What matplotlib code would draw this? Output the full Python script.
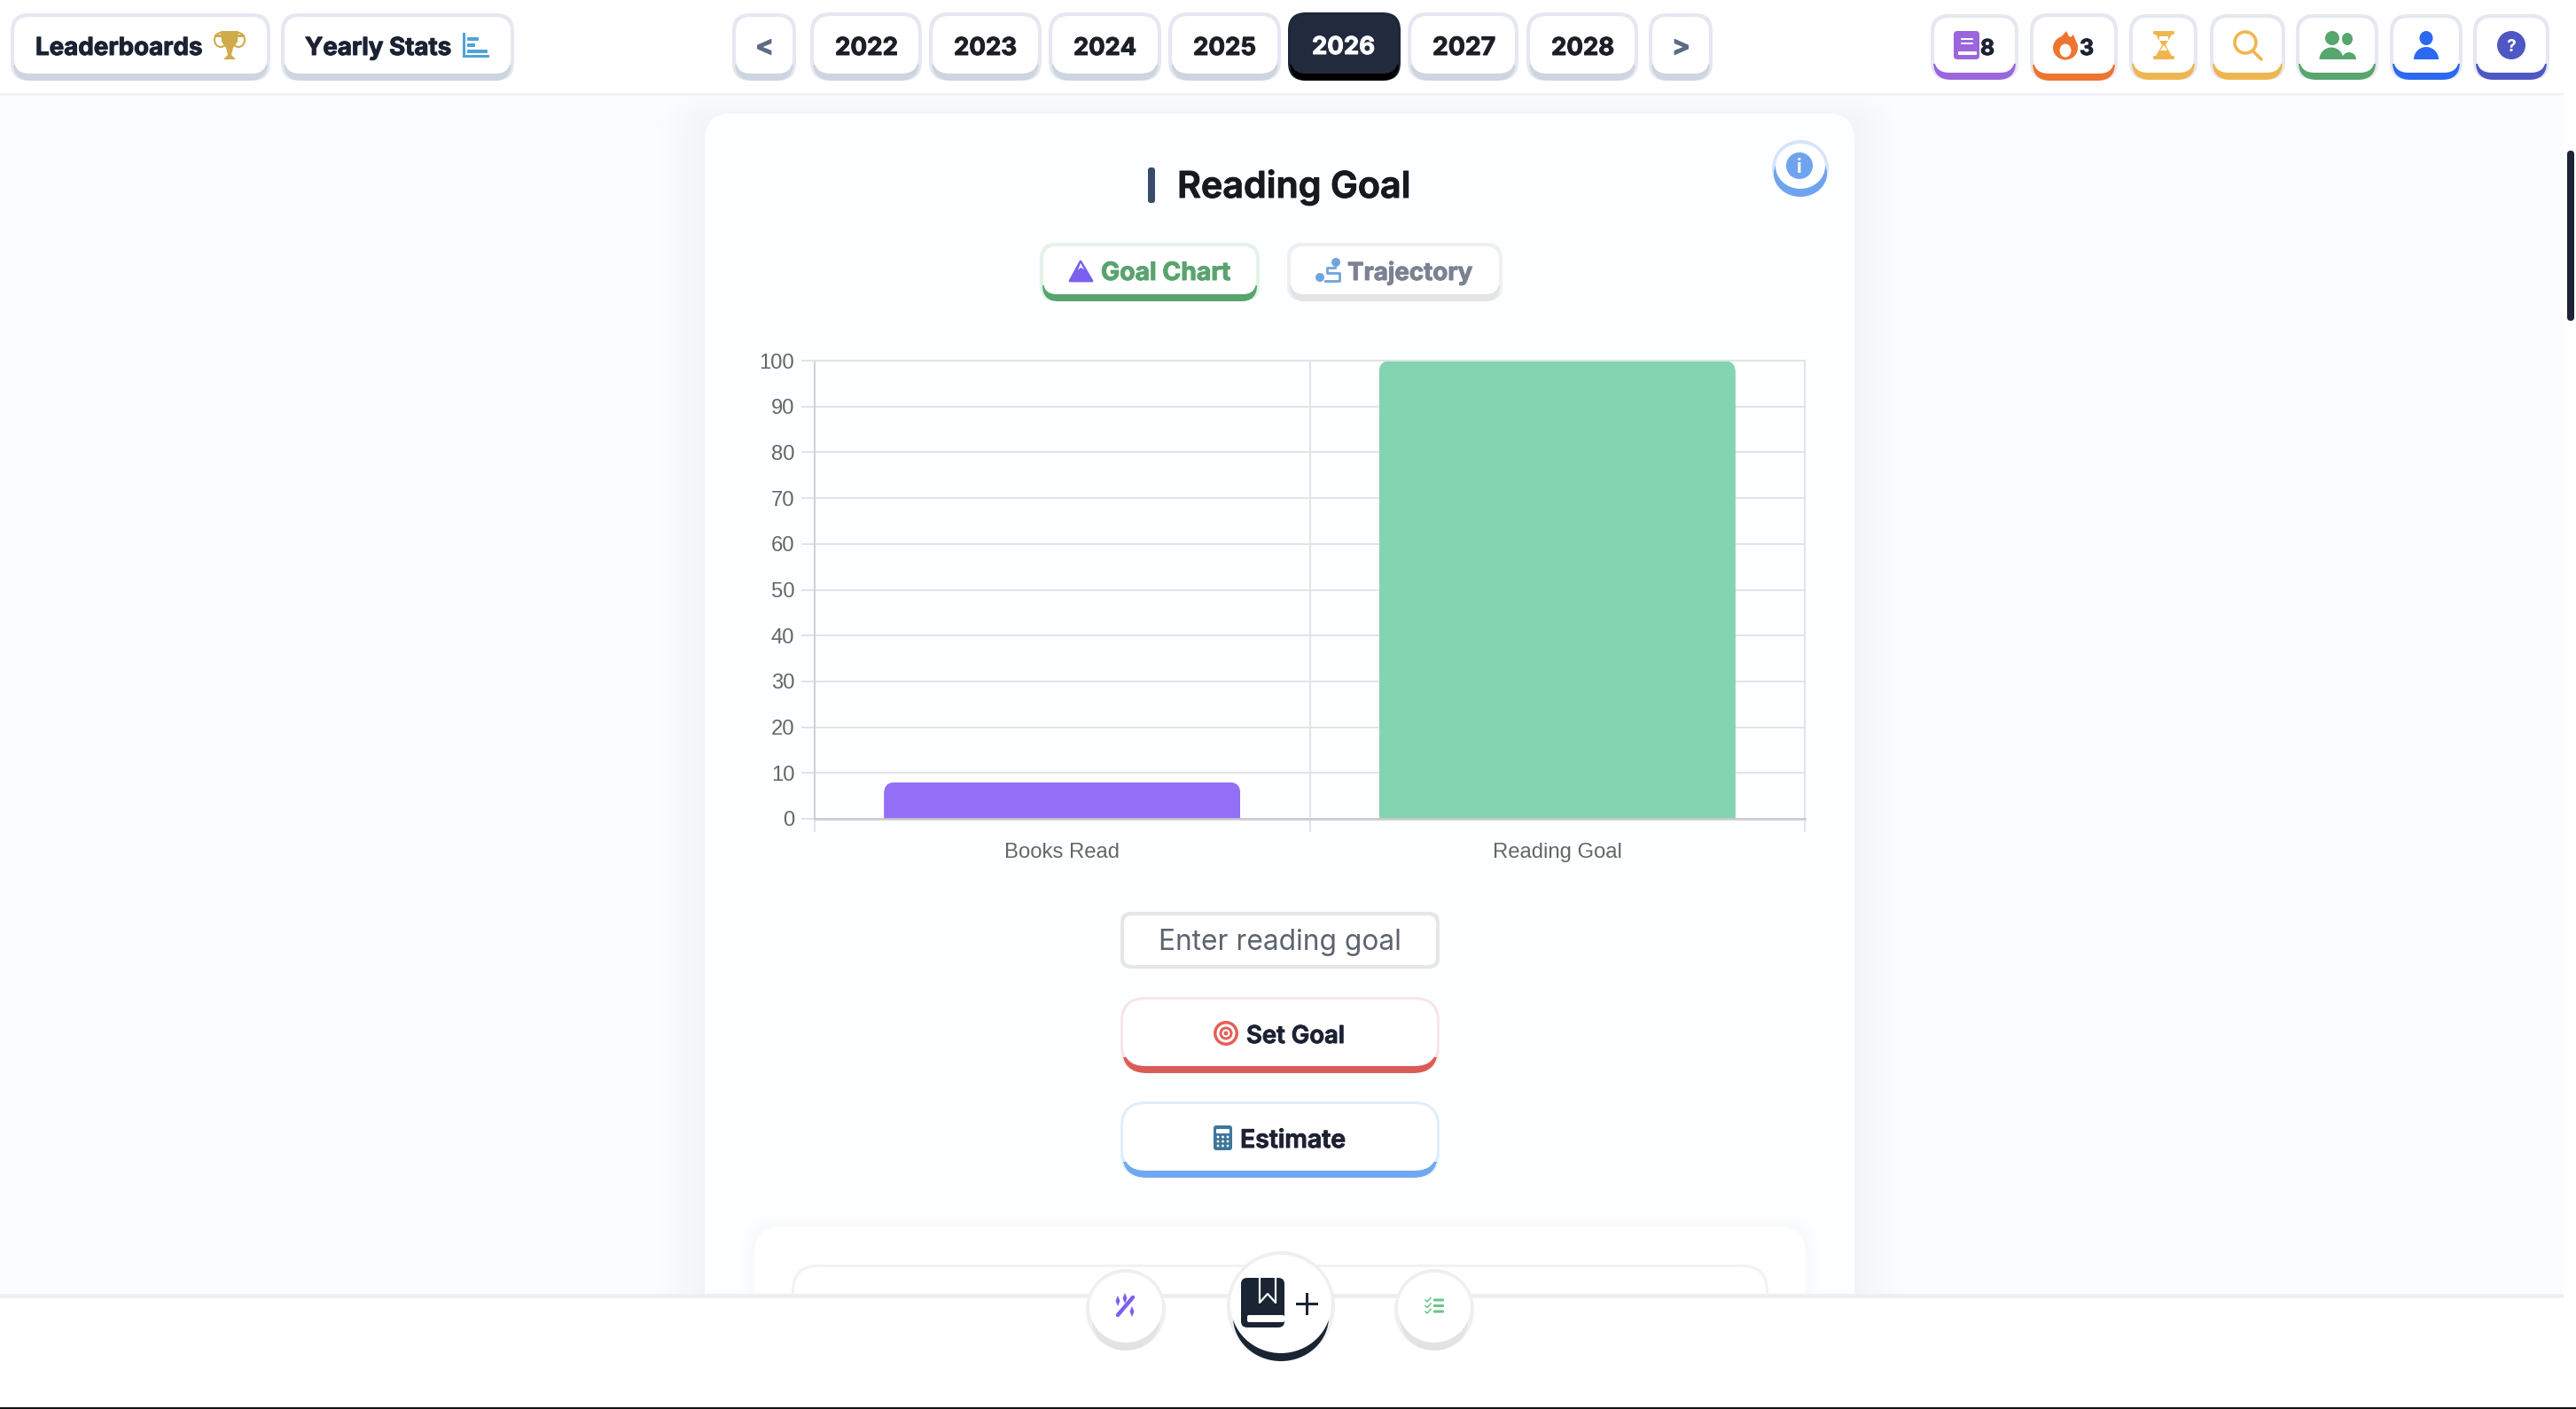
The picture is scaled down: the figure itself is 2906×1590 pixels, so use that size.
import matplotlib
matplotlib.use('Agg')
import matplotlib.pyplot as plt
import matplotlib.patheffects as pe
from matplotlib.patches import FancyBboxPatch, Rectangle, Circle, Ellipse, Polygon, PathPatch, Wedge
from matplotlib.path import Path
from matplotlib.transforms import IdentityTransform

W, H = 2906, 1590

# chart data
categories = ['Books Read', 'Reading Goal']
values = [8, 100]
bar_colors = ['#936ff6', '#82d5b0']
y_ticks = list(range(0, 101, 10))

# page text
years = ['2022', '2023', '2024', '2025', '2026', '2027', '2028']
year_x = [(914, 1040), (1048, 1175), (1183, 1310), (1318, 1445), (1453, 1580), (1588, 1713), (1722, 1848)]

INK = '#1c2233'
BORDER = '#e5e8f0'
SHADE = '#cdd5e0'

fig = plt.figure(figsize=(W / 100, H / 100), dpi=100, facecolor='white')
bg = fig.add_axes([0, 0, 1, 1])
bg.set_xlim(0, W)
bg.set_ylim(H, 0)
bg.axis('off')
renderer = fig.canvas.get_renderer()


def box(x0, y0, x1, y1, r, color, z=1, **kw):
    p = FancyBboxPatch((x0, y0), x1 - x0, y1 - y0, boxstyle=f'round,pad=0,rounding_size={r}',
                       fc=color, ec='none', zorder=z, **kw)
    bg.add_patch(p)
    return p


def button(x0, y0, x1, y1, edge=BORDER, under=SHADE, r=20, b=4, lip=8, fill='white', z=3):
    box(x0, y0, x1, y1, r, edge, z)
    low = box(x0 + b - 1, y0, x1 - b + 1, y1, r, under, z)
    low.set_clip_path(Rectangle((x0, y1 - lip - 10), x1 - x0, lip + 10, transform=bg.transData))
    box(x0 + b, y0 + b, x1 - b, y1 - lip, r - 3, fill, z)


def label(x, base, s, width, color=INK, weight='bold', family='Inter', size=28, z=6):
    # x is the left edge of the text, width its width in pixels
    t = bg.text(x, base, s, color=color, fontsize=size, fontweight=weight, family=family,
                ha='left', va='baseline', zorder=z)
    t.set_fontsize(size * width / t.get_window_extent(renderer).width)
    if weight != 'normal':
        t.set_path_effects([pe.withStroke(linewidth=0.7, foreground=color)])
    return t


# page, screenshot edge
bg.add_patch(Rectangle((0, 1560), W, 30, fc='#111111', ec='none', zorder=0))
box(0, 1300, W, 1588, 24, 'white', 0.5)
bg.add_patch(Rectangle((0, 100), 2892, 1365, fc='#fbfcfe', ec='none', zorder=1))

# card with soft shadow
for i in range(8):
    box(795 - 48 + i * 6, 128 - 20 + i * 3, 2092 + 48 - i * 6, 1500, 40, '#dfe4ee', 1.1, alpha=0.03)
box(795, 128, 2092, 1500, 30, '#fdfeff', 1.2)
for i in range(5):
    box(851 - 15 + i * 3, 1384 - 10 + i * 2, 2037 + 15 - i * 3, 1500, 34, '#e4e8f0', 1.3, alpha=0.025)
box(851, 1384, 2037, 1500, 30, 'white', 1.4)
box(893, 1427, 1995, 1500, 30, '#f1f2f5', 1.5)
box(896, 1430, 1992, 1500, 27, 'white', 1.6)

# top bar
bg.add_patch(Rectangle((0, 0), W, 105, fc='white', ec='none', zorder=2))
bg.add_patch(Rectangle((0, 105), 2892, 3, fc='#f0f1f4', ec='none', zorder=2))

# bottom bar
bg.add_patch(Rectangle((0, 1464), W, 124, fc='white', ec='none', zorder=2))
bg.add_patch(Rectangle((0, 1460), 2892, 5, fc='#eeeff1', ec='none', zorder=2))

# scrollbar
box(2896, 170, 2904, 362, 4, '#1e2435', 2)

# left buttons
button(12, 15, 305, 91)
label(40, 62, 'Leaderboards', 188)
button(317, 15, 580, 91)
label(344, 62, 'Yearly Stats', 165)

# trophy
tc = '#cfab4b'
bg.add_patch(Polygon([(249, 35), (269, 35), (268, 47), (263, 54), (261, 62), (266, 67), (252, 67), (257, 62), (255, 54), (250, 47)],
                     fc=tc, ec='none', zorder=6))
bg.add_patch(Rectangle((242, 39), 34, 2.5, fc=tc, zorder=6))
bg.add_patch(Ellipse((249, 45), 14, 16, fc='none', ec=tc, lw=1.5, zorder=6))
bg.add_patch(Ellipse((269, 45), 14, 16, fc='none', ec=tc, lw=1.5, zorder=6))
# bars icon
ic = '#4fa3d8'
bg.add_patch(Rectangle((522, 37), 3, 28, fc=ic, zorder=6))
bg.add_patch(Rectangle((522, 62), 30, 3, fc=ic, zorder=6))
box(527, 42, 540, 46, 1, ic, 6)
box(527, 49, 536, 53, 1, ic, 6)
box(527, 56, 550, 60, 1, ic, 6)

# year selector
button(826, 15, 898, 91)
label(852, 62, '<', 21, color='#5e6b85')
button(1860, 15, 1932, 91)
label(1886, 62, '>', 21, color='#5e6b85')
for s, (x0, x1) in zip(years, year_x):
    if s == '2026':
        button(x0, 14, x1, 91, edge='#1e2739', under='#000000', fill='#222b3d', b=3)
        label(x0 + 27, 61, s, 71, color='white')
    else:
        button(x0, 14, x1, 91, r=22)
        label(x0 + 28, 62, s, 71, color='#1c1f26')

# right icon buttons
button(2178, 16, 2277, 90, under='#9b66dd')
button(2290, 15, 2389, 91, under='#ee7430')
button(2402, 16, 2479, 90, under='#efb650')
button(2493, 16, 2578, 90, under='#efb650')
button(2590, 16, 2683, 90, under='#57a66d')
button(2696, 16, 2778, 90, under='#2a69f0')
button(2790, 16, 2876, 90, under='#4f57c4')
label(2234, 62, '8', 16)
label(2346, 62, '3', 16)

# book icon
box(2204, 35, 2233, 67, 4, '#9b66dd', 6)
box(2209, 58, 2230, 62, 1, 'white', 7)
box(2212, 43, 2226, 45, 1, 'white', 7)
box(2212, 48, 2226, 50, 1, 'white', 7)
# flame
bg.add_patch(Ellipse((2330, 54), 28, 27, fc='#ee7430', zorder=6))
bg.add_patch(Polygon([(2318, 50), (2331, 35), (2335, 43), (2339, 39), (2344, 52)], fc='#ee7430', zorder=6))
bg.add_patch(Ellipse((2330, 57), 13, 15, fc='white', zorder=7))
# hourglass
hc = '#efb650'
box(2429, 35, 2453, 39, 1.5, hc, 6)
box(2429, 63, 2453, 67, 1.5, hc, 6)
bg.add_patch(Polygon([(2432, 39), (2450, 39), (2443, 51), (2450, 63), (2432, 63), (2439, 51)], fc=hc, zorder=6))
bg.add_patch(Rectangle((2436, 41), 10, 5, fc='white', zorder=7))
bg.add_patch(Polygon([(2441, 51), (2445, 57), (2437, 57)], fc='white', zorder=7))
# search
bg.add_patch(Circle((2533, 48), 12, fc='none', ec=hc, lw=2.6, zorder=6))
bg.plot([2541, 2551], [57, 67], color=hc, lw=2.6, zorder=6, solid_capstyle='round')
# users
gc = '#57a66d'
bg.add_patch(Ellipse((2631, 43), 16, 16, fc=gc, zorder=6))
bg.add_patch(Ellipse((2648, 44), 12, 14, fc=gc, zorder=6))
bg.add_patch(Wedge((2630, 67), 13.5, 180, 360, fc=gc, zorder=6))
bg.add_patch(Wedge((2650, 67), 8, 180, 360, fc=gc, zorder=6))
# user
uc = '#2a69f0'
bg.add_patch(Ellipse((2737, 43), 15, 16, fc=uc, zorder=6))
bg.add_patch(Wedge((2737, 67), 14, 180, 360, fc=uc, zorder=6))
# help
bg.add_patch(Circle((2833, 51), 16, fc='#4f57c4', zorder=6))
bg.text(2833, 51, '?', color='white', fontsize=14, fontweight='bold', family='Inter',
        ha='center', va='center_baseline', zorder=7)

# title row
box(1295, 189, 1303, 229, 3, '#3a4a6b', 4)
label(1328, 223, 'Reading Goal', 264, color='#17191f', weight='semibold')

# info button
bg.add_patch(Ellipse((2031, 190), 64, 64, fc='#d5e4f9', zorder=3))
bg.add_patch(Ellipse((2031, 196), 60, 52, fc='#6ea4ee', zorder=3))
bg.add_patch(Ellipse((2031, 187.5), 56, 51, fc='#fdfeff', zorder=3))
bg.add_patch(Circle((2030, 187), 15, fc='#6ea4ee', zorder=4))
bg.text(2030, 187, 'i', color='white', fontsize=15, fontweight='bold', family='Inter',
        ha='center', va='center_baseline', zorder=5)

# tab buttons
button(1173, 274, 1421, 340, edge='#e4f3e8', under='#57a56d', b=4, r=18)
label(1242, 316, 'Goal Chart', 146, color='#59a36f')
button(1452, 274, 1695, 340, edge='#eff0f1', under='#e3e4e6', b=4, r=18)
label(1520, 316, 'Trajectory', 141, color='#7c8292')
bg.add_patch(Polygon([(1219, 295), (1232, 317), (1207, 317)], fc='#7a5ff0', ec='#7a5ff0', lw=2,
                     joinstyle='round', zorder=6))
bg.add_patch(Polygon([(1219, 297), (1223, 304), (1219, 302), (1216, 305)], fc='white', zorder=7))
tj = '#6fa5dc'
bg.add_patch(Circle((1489, 313), 5, fc=tj, zorder=6))
bg.add_patch(Circle((1507, 296), 5, fc=tj, zorder=6))
bg.plot([1506, 1497, 1497, 1511, 1511, 1495], [302, 302, 308, 308, 317, 317], color=tj, lw=2, zorder=6)

# goal form
box(1264, 1029, 1624, 1093, 12, '#e5e6e8', 3)
box(1268, 1033, 1620, 1089, 9, 'white', 3)
label(1307, 1072, 'Enter reading goal', 274, color='#5d6470', weight='normal')
button(1264, 1125, 1624, 1211, edge='#f8e6e6', under='#d95c56', r=28, b=3)
label(1406, 1177, 'Set Goal', 111, weight='semibold')
button(1264, 1243, 1624, 1329, edge='#e0edfb', under='#6fa8f2', r=28, b=3)
label(1399, 1295, 'Estimate', 119, weight='semibold')
tg = '#e2605a'
bg.add_patch(Circle((1383, 1166), 14, fc=tg, zorder=6))
bg.add_patch(Circle((1383, 1166), 10.5, fc='white', zorder=6))
bg.add_patch(Circle((1383, 1166), 7.5, fc=tg, zorder=6))
bg.add_patch(Circle((1383, 1166), 4.5, fc='white', zorder=6))
bg.add_patch(Circle((1383, 1166), 2.5, fc=tg, zorder=6))
box(1369, 1270, 1390, 1298, 3, '#40769b', 6)
box(1372, 1274, 1387, 1279, 1, 'white', 7)
for cx in (1374, 1379.5, 1385):
    for cy in (1283, 1288, 1293):
        bg.add_patch(Circle((cx, cy), 1.4, fc='white', zorder=7))


# round floating buttons
def round_button(cx, y0, y1, rx, under, z=4):
    cy = (y0 + y1) / 2
    bg.add_patch(Ellipse((cx, cy), rx * 2, y1 - y0, fc='#efeff0', zorder=z))
    bg.add_patch(Ellipse((cx, (y0 + 24 + y1) / 2), rx * 2 - 14, y1 - y0 - 24, fc=under, zorder=z))
    bg.add_patch(Ellipse((cx, (y0 + 4 + y1 - 9) / 2), rx * 2 - 8, y1 - y0 - 13, fc='white', zorder=z))


round_button(1270, 1432, 1524, 45, '#e3e3e4')
round_button(1618, 1432, 1524, 45, '#e3e3e4')
round_button(1445, 1412, 1536, 61, '#1a2433')

# wand
wd = '#7a5ff0'
bg.plot([1261, 1278], [1484, 1464], color=wd, lw=3.2, zorder=6, solid_capstyle='round')
for (sx, sy) in [(1261, 1468), (1277, 1480), (1269, 1465)]:
    bg.add_patch(Polygon([(sx, sy - 6), (sx + 2.5, sy), (sx, sy + 6), (sx - 2.5, sy)], fc=wd, zorder=6))
# check list
ck = '#6cc486'
for yy in (1467, 1473.5, 1480):
    box(1617, yy - 1.5, 1629, yy + 1.5, 1, ck, 6)
    bg.plot([1608, 1610, 1614], [yy, yy + 2, yy - 2.5], color=ck, lw=1.1, zorder=6)
# add book
nv = '#1a2433'
box(1400, 1442, 1449, 1498, 7, nv, 6)
box(1407, 1484, 1449, 1492, 2, 'white', 7)
bg.plot([1421, 1421, 1430, 1439, 1439], [1442, 1470, 1460, 1470, 1442], color='white', lw=1.6, zorder=7)
bg.add_patch(Rectangle((1462, 1470), 25, 3, fc=nv, zorder=6))
bg.add_patch(Rectangle((1473, 1459), 3, 25, fc=nv, zorder=6))

# the chart itself
ax = fig.add_axes([919 / W, (H - 924) / H, (2036 - 919) / W, (924 - 407) / H], zorder=5)
ax.patch.set_alpha(0)
x_pos = list(range(len(categories)))
bars = ax.bar(x_pos, values, width=0.72, color=bar_colors, zorder=2, linewidth=0)
ax.set_xlim(-0.5, 1.5)
ax.set_ylim(0, 100)
ax.set_yticks(y_ticks)
ax.set_xticks([-0.5, 0.5, 1.5])
ax.set_xticklabels([])
ax.set_xticks(x_pos, minor=True)
ax.set_xticklabels(categories, minor=True, family='Liberation Sans', fontsize=17.2, color='#666666')
ax.tick_params(axis='x', which='minor', length=0, pad=19.5)
ax.tick_params(axis='x', which='major', length=10.8, width=1.3, color='#e0e1e4')
ax.tick_params(axis='y', length=10.8, width=1.3, color='#e0e1e4', pad=5.5, labelcolor='#666666', labelsize=17.2)
for t in ax.get_yticklabels():
    t.set_family('Liberation Sans')
ax.grid(True, which='major', color='#e2e3e6', lw=1.4, zorder=0)
for side in ('top', 'right'):
    ax.spines[side].set_visible(True)
    ax.spines[side].set_color('#e2e3e6')
    ax.spines[side].set_linewidth(1.4)
ax.spines['left'].set_color('#d0d0d3')
ax.spines['left'].set_linewidth(1.4)
ax.spines['bottom'].set_color('#cbcbcf')
ax.spines['bottom'].set_linewidth(1.8)

# rounded top corners on the bars
rad = 13
for b in bars:
    (x0, y0), (x1, y1) = ax.transData.transform([(b.get_x(), 0), (b.get_x() + b.get_width(), b.get_height())])
    verts = [(x0, y0), (x0, y1 - rad), (x0, y1), (x0 + rad, y1), (x1 - rad, y1), (x1, y1), (x1, y1 - rad), (x1, y0), (x0, y0)]
    codes = [Path.MOVETO, Path.LINETO, Path.CURVE3, Path.CURVE3, Path.LINETO, Path.CURVE3, Path.CURVE3, Path.LINETO, Path.CLOSEPOLY]
    b.set_clip_path(PathPatch(Path(verts, codes), transform=IdentityTransform()))

fig.savefig('out.png', dpi=100, facecolor='white')
